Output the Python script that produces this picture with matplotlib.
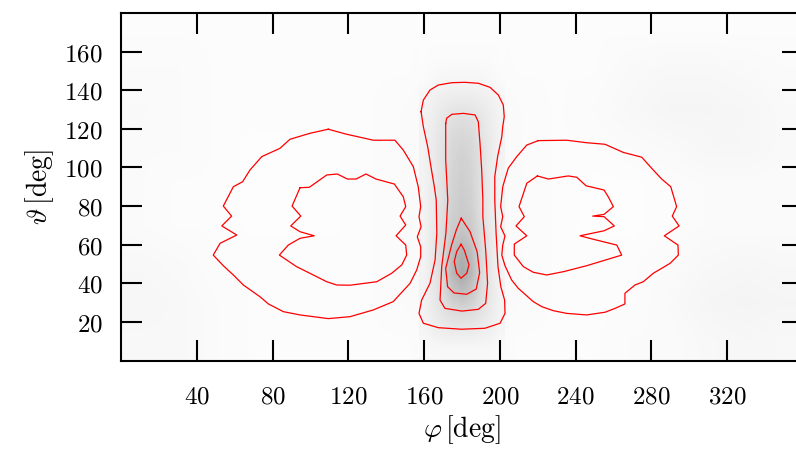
import numpy as np
import matplotlib
matplotlib.use('Agg')
import matplotlib.pyplot as plt
from matplotlib.ticker import FuncFormatter

plt.rcParams['mathtext.fontset'] = 'cm'

# ---- gray density (0 = white, 1 = black) ----
# background, 20 deg cells, rows theta = 10..170, cols phi = 10..350
bg_rows = [
    [.030, .030, .020, .015, .015, .015, .015, .015, .020, .020, .015, .015, .015, .020, .020, .030, .035, .030],
    [.035, .030, .020, .015, .015, .015, .015, .020, .030, .030, .020, .015, .015, .015, .025, .040, .045, .040],
    [.030, .025, .015, .015, .015, .015, .015, .020, .030, .030, .020, .015, .015, .015, .020, .030, .035, .030],
    [.020, .015, .015, .010, .010, .010, .015, .020, .030, .030, .020, .015, .010, .010, .015, .020, .020, .020],
    [.020, .015, .015, .010, .010, .010, .015, .020, .030, .030, .020, .015, .010, .010, .015, .020, .020, .020],
    [.020, .020, .015, .010, .010, .010, .015, .020, .030, .030, .020, .015, .015, .020, .025, .035, .035, .025],
    [.025, .020, .015, .015, .015, .015, .015, .020, .030, .030, .020, .015, .020, .030, .040, .040, .035, .025],
    [.020, .020, .015, .015, .015, .015, .015, .015, .020, .020, .015, .015, .015, .025, .030, .030, .025, .020],
    [.015, .015, .015, .015, .015, .015, .015, .015, .015, .015, .015, .015, .015, .015, .015, .015, .015, .015],
]
# central band, 5 deg cols phi = 160..200, 10 deg rows theta = 5..175
band_rows = [
    [.02, .03, .03, .03, .03, .03, .03, .03, .02],
    [.04, .06, .07, .08, .08, .08, .07, .06, .04],
    [.05, .08, .11, .14, .15, .14, .11, .08, .05],
    [.05, .09, .14, .22, .26, .22, .14, .09, .05],
    [.05, .09, .15, .28, .34, .28, .15, .09, .05],
    [.05, .09, .15, .26, .31, .26, .15, .09, .05],
    [.05, .09, .14, .21, .24, .21, .14, .09, .05],
    [.05, .08, .13, .19, .21, .19, .13, .08, .05],
    [.05, .08, .12, .18, .20, .18, .12, .08, .05],
    [.05, .08, .12, .17, .19, .17, .12, .08, .05],
    [.05, .08, .12, .16, .18, .16, .12, .08, .05],
    [.05, .08, .11, .15, .16, .15, .11, .08, .05],
    [.05, .07, .10, .12, .13, .12, .10, .07, .05],
    [.04, .06, .07, .08, .08, .08, .07, .06, .04],
    [.02, .03, .04, .04, .04, .04, .04, .03, .02],
    [.015, .02, .02, .02, .02, .02, .02, .02, .015],
    [.015, .015, .015, .015, .015, .015, .015, .015, .015],
    [.015, .015, .015, .015, .015, .015, .015, .015, .015],
]

# ---- contour lines (phi, theta) in degrees ----
left_outer_phi = [109.4, 119.1, 133.2, 144.6, 149.0, 154.3, 156.9, 158.2, 157.3, 158.4, 156.4, 158.2, 158.2,
                  156.1, 152.6, 143.7, 133.2, 120.9, 109.4, 94.5, 85.7, 77.8, 73.4, 64.6, 59.3, 54.0, 48.7,
                  52.3, 61.1, 53.2, 58.4, 54.0, 59.3, 64.2, 68.1, 74.3, 83.9, 89.2, 99.8]
left_outer_theta = [119.8, 117.2, 114.1, 114.1, 109.0, 100.4, 90.0, 79.7, 74.5, 69.3, 64.1, 58.9, 53.8,
                    46.9, 40.0, 30.5, 26.2, 22.7, 21.7, 23.6, 25.3, 29.3, 33.0, 39.1, 44.3, 49.1, 54.6,
                    60.7, 65.0, 69.7, 74.8, 80.0, 90.0, 92.6, 98.7, 105.6, 109.9, 114.6, 117.7]

left_inner_phi = [94.5, 99.4, 108.6, 114.2, 119.5, 124.1, 129.3, 134.6, 144.3, 149.0, 150.3, 147.3, 150.3,
                  145.2, 150.3, 150.8, 148.2, 142.9, 135.0, 120.9, 113.9, 108.6, 101.5, 92.7, 83.6, 88.3,
                  94.5, 102.0, 94.5, 89.6, 94.9, 90.3]
left_inner_theta = [89.5, 89.7, 96.1, 96.6, 94.0, 94.0, 96.6, 94.0, 91.4, 84.8, 79.7, 74.8, 70.2,
                    64.6, 59.8, 54.6, 49.5, 45.2, 40.8, 39.0, 39.1, 40.8, 44.3, 48.6, 54.6, 59.8,
                    63.3, 64.6, 66.7, 69.7, 74.8, 80.0]

right_outer_phi = [220.3, 235.3, 245.8, 255.5, 265.1, 274.9, 280.1, 285.4, 290.2, 293.3, 291.0, 294.6, 286.8,
                   294.0, 294.2, 289.8, 281.0, 275.7, 271.3, 266.0, 266.0, 260.8, 255.5, 245.8, 235.3, 228.2,
                   222.1, 217.6, 209.7, 206.2, 202.7, 201.0, 201.5, 202.7, 200.4, 201.5, 200.4, 201.5, 204.4,
                   208.9, 214.2]
right_outer_theta = [113.9, 114.1, 112.8, 112.0, 107.8, 105.3, 99.6, 94.0, 90.0, 79.7, 74.8, 69.7, 64.6,
                     59.8, 54.6, 50.3, 45.2, 40.8, 39.1, 34.8, 29.3, 27.0, 25.0, 23.6, 24.4, 25.8,
                     27.9, 30.5, 37.4, 41.7, 49.1, 54.6, 59.8, 64.5, 69.3, 74.5, 79.7, 90.0, 99.6,
                     105.6, 111.6]

right_inner_phi = [219.8, 225.6, 236.1, 240.6, 245.5, 255.0, 257.2, 259.9, 255.0, 249.0, 255.0, 260.4, 255.0,
                   242.3, 249.3, 261.7, 264.3, 245.8, 233.5, 224.7, 217.6, 212.4, 207.6, 207.6, 214.2, 208.5,
                   212.9, 210.1, 214.2]
right_inner_theta = [95.6, 94.0, 95.6, 94.9, 90.5, 88.3, 84.8, 79.7, 75.7, 74.8, 74.5, 69.7, 67.2,
                     64.6, 62.8, 59.8, 54.6, 49.1, 46.0, 44.3, 45.7, 48.6, 54.6, 60.3, 64.6, 69.7,
                     74.5, 79.7, 91.8]

mid_1_phi = [158.4, 159.6, 163.1, 167.5, 174.6, 181.6, 188.6, 194.8, 199.2, 201.8, 202.3, 201.5, 201.0,
             198.8, 197.3, 197.3, 198.0, 199.0, 200.5, 202.5, 202.7, 200.1, 192.1, 179.8, 167.5, 159.6,
             157.3, 158.7, 163.1, 165.8, 166.7, 166.4, 165.4, 163.6, 161.9, 159.6]
mid_1_theta = [128.9, 134.9, 140.1, 142.7, 143.9, 144.1, 143.6, 141.5, 137.5, 132.3, 126.3, 121.1, 115.9,
               105.6, 95.2, 83.1, 65.9, 48.6, 38.2, 31.3, 24.4, 19.3, 16.7, 16.2, 17.0, 19.3,
               24.4, 31.3, 40.0, 52.1, 65.9, 83.1, 90.0, 100.4, 110.7, 121.1]

mid_2_phi = [171.4, 171.9, 174.6, 180.7, 186.9, 188.6, 189.5, 190.4, 191.0, 191.0, 192.5, 193.5, 192.5,
             188.6, 180.0, 171.0, 168.4, 169.3, 171.5, 172.5, 171.4]
mid_2_theta = [122.8, 125.5, 127.5, 128.0, 127.2, 123.7, 112.5, 98.7, 83.1, 74.5, 57.2, 40.0, 29.6,
               26.5, 25.6, 27.0, 31.3, 48.6, 65.9, 83.1, 103.9]

mid_3_phi = [179.6, 184.2, 188.0, 189.3, 187.5, 182.5, 175.8, 172.4, 171.4, 174.5, 177.0]
mid_3_theta = [73.7, 66.8, 56.3, 45.5, 37.0, 34.3, 35.0, 38.2, 47.7, 59.8, 67.6]

mid_4_phi = [179.5, 181.2, 183.7, 182.5, 179.5, 177.2, 175.9, 177.2]
mid_4_theta = [60.2, 57.2, 49.5, 45.2, 42.6, 45.2, 51.2, 56.4]

contours = [(left_outer_phi, left_outer_theta), (left_inner_phi, left_inner_theta),
            (right_outer_phi, right_outer_theta), (right_inner_phi, right_inner_theta),
            (mid_1_phi, mid_1_theta), (mid_2_phi, mid_2_theta),
            (mid_3_phi, mid_3_theta), (mid_4_phi, mid_4_theta)]

xticks = [40, 80, 120, 160, 200, 240, 280, 320]
yticks = [20, 40, 60, 80, 100, 120, 140, 160]

fig = plt.figure(figsize=(7.96, 4.53), dpi=100)
ax = fig.add_axes([121/796, 92.5/453, 682/796, 347.5/453])

ax.imshow(np.array(bg_rows), origin='lower', extent=[0, 360, 0, 180], cmap='gray_r',
          vmin=0, vmax=1, aspect='auto', interpolation='bilinear', zorder=0)
ax.imshow(np.array(band_rows), origin='lower', extent=[157.5, 202.5, 0, 180], cmap='gray_r',
          vmin=0, vmax=1, aspect='auto', interpolation='bilinear', zorder=1)

for ph, th in contours:
    ax.plot(list(ph) + [ph[0]], list(th) + [th[0]], color='red', lw=0.9, zorder=3)

ax.set_xlim(0, 360)
ax.set_ylim(0, 180)
ax.set_xticks(xticks)
ax.set_yticks(yticks)
fmt = FuncFormatter(lambda v, p: r'$%d$' % v)
ax.xaxis.set_major_formatter(fmt)
ax.yaxis.set_major_formatter(fmt)
ax.tick_params(direction='in', length=15, width=1.5, top=True, right=True,
               labelsize=18)
ax.tick_params(axis='x', pad=17)
ax.tick_params(axis='y', pad=13)
for s in ax.spines.values():
    s.set_linewidth(1.5)
    s.set_zorder(5)

ax.set_xlabel(r'$\varphi\,[\mathrm{deg}]$', fontsize=20, labelpad=4)
ax.set_ylabel(r'$\vartheta\,[\mathrm{deg}]$', fontsize=20, labelpad=6)

fig.savefig('out.png', dpi=100)
